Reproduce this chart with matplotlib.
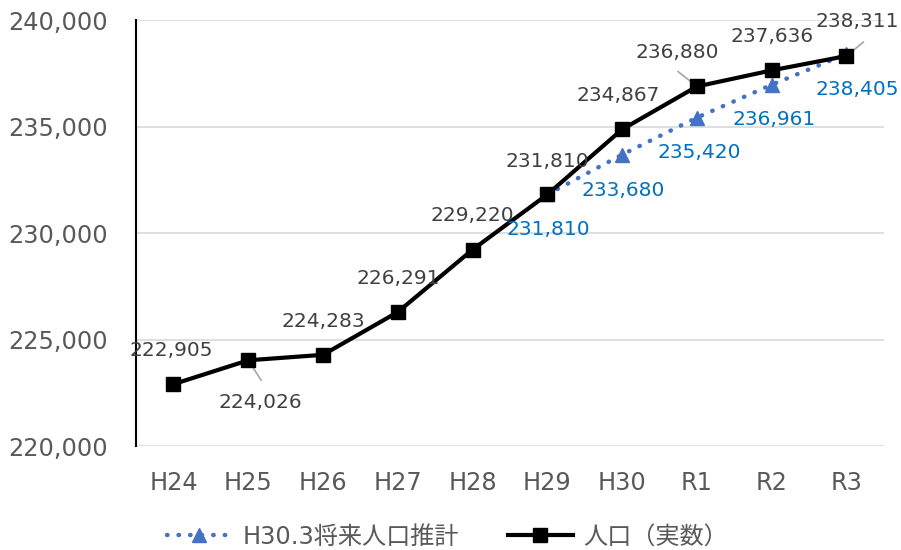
import matplotlib
matplotlib.use("Agg")
import matplotlib.pyplot as plt
from matplotlib.ticker import FuncFormatter

plt.rcParams['font.family'] = ['DejaVu Sans', 'Noto Sans CJK JP']

categories = ["H24", "H25", "H26", "H27", "H28", "H29", "H30", "R1", "R2", "R3"]
actual = [222905, 224026, 224283, 226291, 229220, 231810, 234867, 236880, 237636, 238311]
proj_cats = ["H29", "H30", "R1", "R2", "R3"]
projection = [231810, 233680, 235420, 236961, 238405]
yticks = [220000, 225000, 230000, 235000, 240000]

series_proj_name = "H30.3将来人口推計"
series_actual_name = "人口（実数）"

fig = plt.figure(figsize=(9.01, 5.5), dpi=100)
ax = fig.add_axes([0.151, 0.189, 0.830, 0.7746])

x = list(range(len(categories)))
xp = [categories.index(c) for c in proj_cats]

ax.plot(xp, projection, linestyle=(0, (0.1, 2.5)), dash_capstyle='round', color='#4472C4',
        linewidth=3.2, marker='^', markersize=10, markeredgecolor='#4472C4',
        markerfacecolor='#4472C4', label=series_proj_name, zorder=3)
ax.plot(x, actual, color='black', linewidth=3, marker='s', markersize=10,
        label=series_actual_name, zorder=4)

ax.set_xlim(-0.5, len(categories) - 0.5)
ax.set_ylim(220000, 240000)
ax.set_yticks(yticks)
ax.yaxis.set_major_formatter(FuncFormatter(lambda v, p: f"{int(v):,}"))
ax.set_xticks(x)
ax.set_xticklabels(categories)
ax.grid(axis='y', color='#D9D9D9', linewidth=1.2)
ax.set_axisbelow(True)
for s in ['top', 'right', 'bottom']:
    ax.spines[s].set_visible(False)
ax.spines['left'].set_color('black')
ax.spines['left'].set_linewidth(1.5)
ax.tick_params(axis='both', length=0, labelsize=17.3, colors='#595959')
ax.tick_params(axis='y', pad=20)
ax.tick_params(axis='x', pad=18)

# label offsets in pixels (dx, dy)
actual_off = [(-2, 34), (12, -42), (0, 33), (0, 34), (0, 34), (0, 33), (-4, 34), (-20, 34), (0, 34), (11, 34)]
proj_off = [(1, -35.5), (1, -35.5), (2, -35), (2, -35), (11, -36)]
leaders_actual = {1: (13, -20), 7: (-19, 15), 9: (17, 14)}

for i, (xi, v) in enumerate(zip(x, actual)):
    dx, dy = actual_off[i]
    ax.annotate(f"{v:,}", (xi, v), xytext=(dx, dy), textcoords='offset pixels',
                ha='center', va='center', fontsize=14.5, color='#404040', zorder=5)
    if i in leaders_actual:
        a1, b1 = leaders_actual[i]
        ax.annotate("", (xi, v), xytext=(a1, b1), textcoords='offset pixels',
                    arrowprops=dict(arrowstyle='-', color='#A6A6A6', lw=1.2,
                                    shrinkA=0, shrinkB=4), zorder=2)
for i, (xi, v) in enumerate(zip(xp, projection)):
    dx, dy = proj_off[i]
    ax.annotate(f"{v:,}", (xi, v), xytext=(dx, dy), textcoords='offset pixels',
                ha='center', va='center', fontsize=14.5, color='#0070C0', zorder=5)

leg = fig.legend(loc='center', bbox_to_anchor=(0.4967, 0.024), ncol=2, frameon=False,
                 prop={'family': ['DejaVu Sans', 'Noto Sans CJK JP'], 'size': 17.4},
                 handlelength=2.7, columnspacing=2.0, handletextpad=0.45)
for t in leg.get_texts():
    t.set_color('#595959')

fig.savefig("out.png", dpi=100)
